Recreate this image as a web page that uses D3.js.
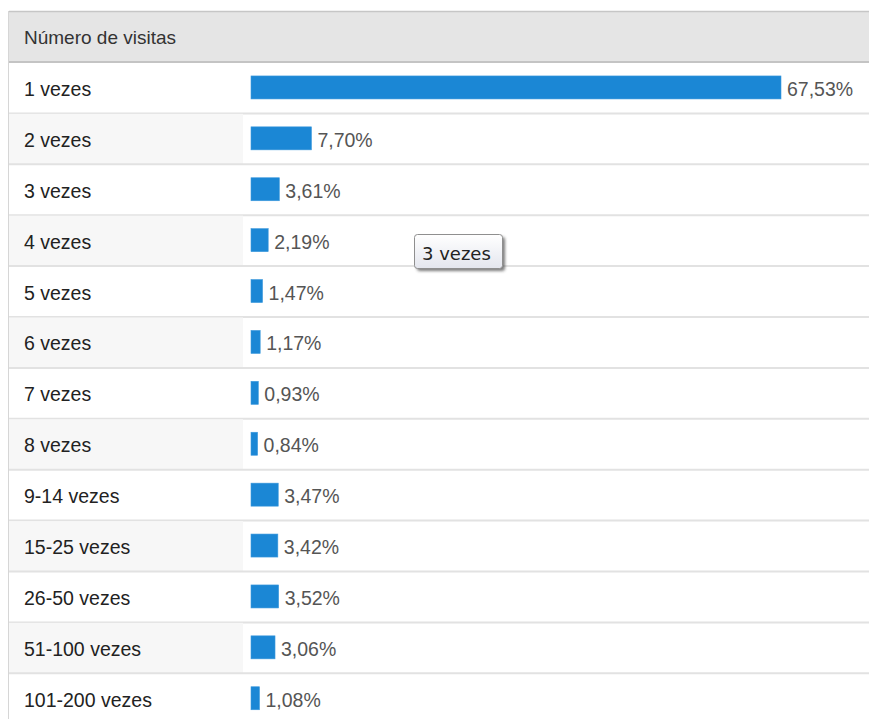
<!DOCTYPE html>
<html>
<head>
<meta charset="utf-8">
<script src="https://cdn.jsdelivr.net/npm/d3@7"></script>
<style>
  html, body { margin: 0; padding: 0; background: #fff; }
  svg { display: block; }
</style>
</head>
<body>
<div id="chart"></div>
<script>
// --- Data ---
const categories = ['1 vezes', '2 vezes', '3 vezes', '4 vezes', '5 vezes', '6 vezes', '7 vezes',
  '8 vezes', '9-14 vezes', '15-25 vezes', '26-50 vezes', '51-100 vezes', '101-200 vezes'];
const values = [67.53, 7.70, 3.61, 2.19, 1.47, 1.17, 0.93, 0.84, 3.47, 3.42, 3.52, 3.06, 1.08];
const headerLabel = 'Número de visitas';
const tooltipLabel = '3 vezes';

// --- Layout ---
const width = 869;
const height = 719;
const left = 9;
const headerTop = 12;
const headerBottom = 63;
const rowStep = 50.9;
const labelCellW = 234;
const barX = 251;

const rows = categories.map((c, i) => ({ cat: c, value: values[i], i }));
const fmt = v => v.toFixed(2).replace('.', ',') + '%';

const svg = d3.select('#chart').append('svg')
  .attr('width', width)
  .attr('height', height)
  .style('font-family', '"Liberation Sans", Arial, sans-serif');

const y = d3.scaleBand()
  .domain(categories)
  .range([headerBottom, headerBottom + rowStep * categories.length])
  .paddingInner(0);

const x = d3.scaleLinear()
  .domain([0, 67.53])
  .range([0, 530]);

// header
svg.append('rect')
  .attr('x', left).attr('y', headerTop)
  .attr('width', width - left).attr('height', headerBottom - headerTop)
  .attr('fill', '#e5e5e5');
svg.append('line')
  .attr('x1', left).attr('x2', width)
  .attr('y1', headerTop - 0.5).attr('y2', headerTop - 0.5)
  .attr('stroke', '#c6c6c6').attr('stroke-width', 1.5);
svg.append('line')
  .attr('x1', left).attr('x2', width)
  .attr('y1', headerBottom - 1).attr('y2', headerBottom - 1)
  .attr('stroke', '#c4c4c4').attr('stroke-width', 2);
svg.append('text')
  .attr('x', 24).attr('y', 44)
  .attr('font-size', 19)
  .attr('fill', '#333')
  .text(headerLabel);

// rows
const row = svg.append('g').selectAll('g')
  .data(rows)
  .join('g')
  .attr('transform', d => `translate(0,${y(d.cat)})`);

row.filter(d => d.i % 2 === 1)
  .append('rect')
  .attr('x', left).attr('y', 0)
  .attr('width', labelCellW).attr('height', y.bandwidth())
  .attr('fill', '#f7f7f7');

row.append('line')
  .attr('x1', left).attr('x2', width)
  .attr('y1', y.bandwidth() - 0.5).attr('y2', y.bandwidth() - 0.5)
  .attr('stroke', '#e2e2e2').attr('stroke-width', 2);

row.append('text')
  .attr('x', 24)
  .attr('y', y.bandwidth() / 2 + 7.5)
  .attr('font-size', 19.5)
  .attr('fill', '#222')
  .text(d => d.cat);

row.append('rect')
  .attr('x', barX)
  .attr('y', y.bandwidth() / 2 - 12.5)
  .attr('width', d => x(d.value))
  .attr('height', 23)
  .attr('fill', '#1b87d5')
  .attr('stroke', '#3d99dc')
  .attr('stroke-width', 0.6);

row.append('text')
  .attr('x', d => barX + x(d.value) + 6)
  .attr('y', y.bandwidth() / 2 + 7.5)
  .attr('font-size', 19.5)
  .attr('fill', '#555')
  .text(d => fmt(d.value));

// left border
svg.append('line')
  .attr('x1', left - 0.5).attr('x2', left - 0.5)
  .attr('y1', headerTop - 1).attr('y2', height)
  .attr('stroke', '#d6d6d6').attr('stroke-width', 1);

// tooltip
const defs = svg.append('defs');
const grad = defs.append('linearGradient')
  .attr('id', 'tipGrad').attr('x1', 0).attr('x2', 0).attr('y1', 0).attr('y2', 1);
grad.append('stop').attr('offset', '0%').attr('stop-color', '#ffffff');
grad.append('stop').attr('offset', '100%').attr('stop-color', '#e4e6ee');
const blur = defs.append('filter').attr('id', 'tipShadow')
  .attr('x', '-20%').attr('y', '-20%').attr('width', '150%').attr('height', '160%');
blur.append('feGaussianBlur').attr('stdDeviation', 1.5);

const tip = svg.append('g').attr('transform', 'translate(414,234)');
tip.append('rect')
  .attr('x', 3).attr('y', 3)
  .attr('width', 88).attr('height', 34)
  .attr('rx', 3)
  .attr('fill', '#444').attr('opacity', 0.7)
  .attr('filter', 'url(#tipShadow)');
tip.append('rect')
  .attr('x', 0.5).attr('y', 0.5)
  .attr('width', 88).attr('height', 34)
  .attr('rx', 3)
  .attr('fill', 'url(#tipGrad)')
  .attr('stroke', '#8f8f8f');
tip.append('text')
  .attr('x', 8).attr('y', 26)
  .attr('font-family', '"DejaVu Sans", sans-serif')
  .attr('font-size', 18)
  .attr('fill', '#222')
  .text(tooltipLabel);
</script>
</body>
</html>
